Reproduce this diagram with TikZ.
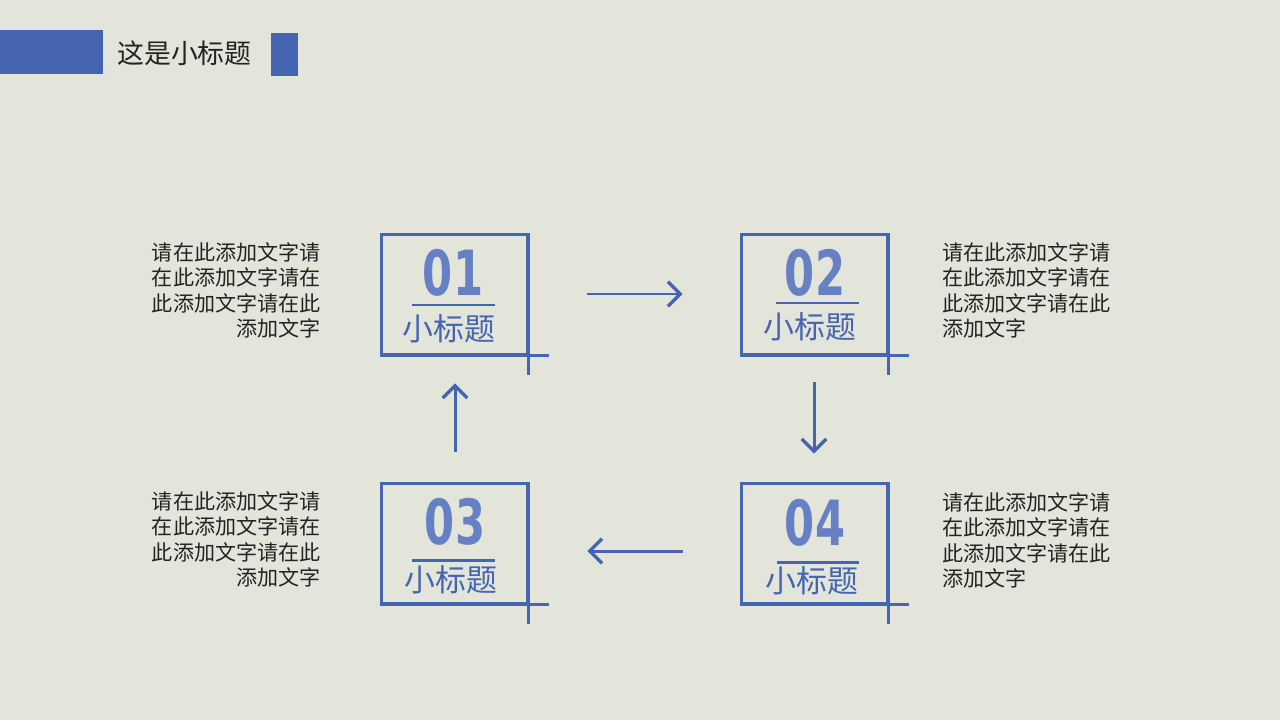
\documentclass[tikz,border=0pt]{standalone}
\usepackage{fontspec}
\setmainfont{Noto Sans CJK SC}
\newfontfamily\numfont{DejaVu Sans}
\usetikzlibrary{arrows.meta,calc}
\definecolor{inkblue}{HTML}{4565B0}
\definecolor{digitblue}{HTML}{6680C4}
\definecolor{paper}{HTML}{E3E5DA}
\definecolor{ink}{HTML}{232323}
\begin{document}
\begin{tikzpicture}[x=0.02cm, y=-0.02cm,
  main box/.style={draw=inkblue,line width=1.7pt,minimum width=2.92cm,minimum height=2.4cm,inner sep=0pt},
  box line/.style={draw=inkblue,line width=1.7pt},
  flow/.style={draw=inkblue,line width=1.7pt,-{Straight Barb[length=7pt,width=14pt,line width=1.9pt]}},
  num/.style={text=digitblue,font=\numfont\bfseries\fontsize{37.3}{40}\selectfont,inner sep=0pt},
  sub/.style={text=inkblue,font=\fontsize{17.6}{20}\selectfont,inner sep=0pt},
  note/.style={text=ink,font=\fontsize{12}{14.5}\selectfont,inner sep=0pt}]
% paper
\fill[paper] (0,0) rectangle (1280,720);
% title bar
\fill[inkblue] (0,30) rectangle (103,74);
\fill[inkblue] (271,33) rectangle (298,76);
\node[text=ink,font=\fontsize{15.3}{18}\selectfont,anchor=west,inner sep=0pt] (title) at (117,53) {这是小标题};
% boxes
\node[main box] (b1) at (454,294) {};
\node[main box] (b2) at (814,294) {};
\node[main box] (b3) at (454,543) {};
\node[main box] (b4) at (814,543) {};
\foreach \b in {b1,b2,b3,b4}{
  \draw[box line] (\b.south west) -- ++(169,0);
  \draw[box line] (\b.north east) -- ++(0,142);
}
% numbers and subtitles
\node[num] (n1) at (453,273) {\scalebox{0.66}[0.95]{01}};
\node[num] (n2) at (815,273) {\scalebox{0.66}[0.95]{02}};
\node[num] (n3) at (455,522) {\scalebox{0.66}[0.95]{03}};
\node[num] (n4) at (815,523) {\scalebox{0.66}[0.95]{04}};
\draw[box line] (412,305) -- (495,305);
\draw[box line] (776,303) -- (859,303);
\draw[box line] (412,560) -- (495,560);
\draw[box line] (777,562) -- (859,562);
\node[sub] (s1) at (449,329) {小标题};
\node[sub] (s2) at (810,327) {小标题};
\node[sub] (s3) at (451,580) {小标题};
\node[sub] (s4) at (812,581) {小标题};
% arrows
\draw[flow] ($(b1.east)+(59,0)$) -- ($(b2.west)+(-57,0)$);
\draw[flow] ($(b2.south)+(0,27)$) -- ($(b4.north)+(0,-28)$);
\draw[flow] ($(b4.west)+(-57,8)$) -- ($(b3.east)+(59,8)$);
\draw[flow] ($(b3.north)+(1,-30)$) -- ($(b1.south)+(1,28)$);
% notes
\node[note,align=right,anchor=north east] (c1) at (321,242) {请在此添加文字请\\在此添加文字请在\\此添加文字请在此\\添加文字};
\node[note,align=left,anchor=north west] (c2) at (942,242) {请在此添加文字请\\在此添加文字请在\\此添加文字请在此\\添加文字};
\node[note,align=right,anchor=north east] (c3) at (321,491) {请在此添加文字请\\在此添加文字请在\\此添加文字请在此\\添加文字};
\node[note,align=left,anchor=north west] (c4) at (942,492) {请在此添加文字请\\在此添加文字请在\\此添加文字请在此\\添加文字};
\end{tikzpicture}
\end{document}
